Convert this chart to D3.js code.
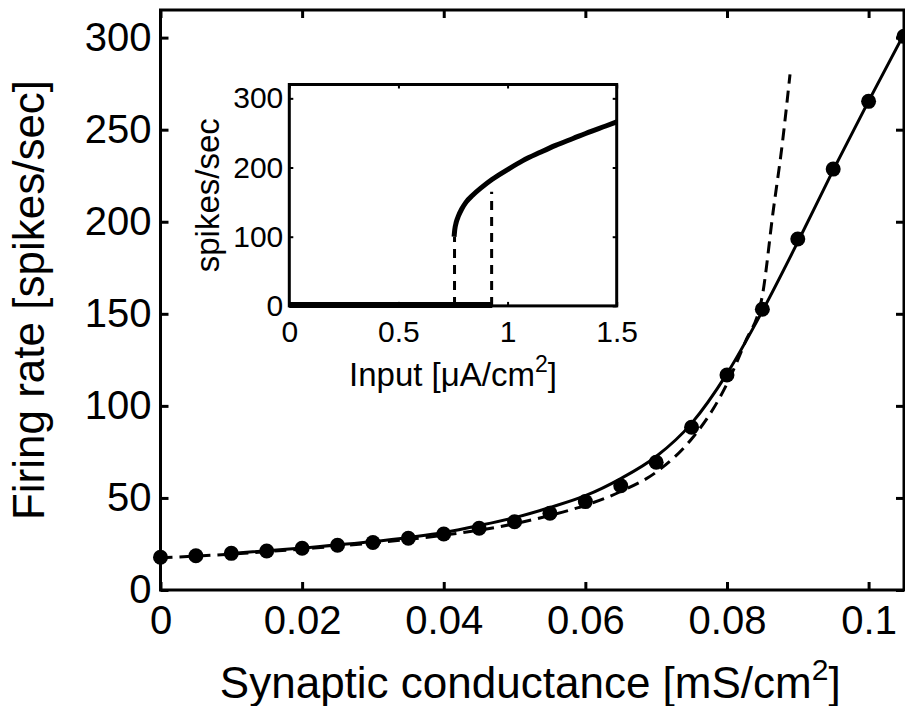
<!DOCTYPE html>
<html>
<head>
<meta charset="utf-8">
<script src="https://cdn.jsdelivr.net/npm/d3@7"></script>
<style>
  body { margin: 0; background: #fff; }
  svg { display: block; font-family: "Liberation Sans", Arial, sans-serif; }
</style>
</head>
<body>
<div id="chart"></div>
<script>
// main plot: simulated firing rate vs synaptic conductance
var dotG    = [0, 0.005, 0.01, 0.015, 0.02, 0.025, 0.03, 0.035, 0.04, 0.045, 0.05,
               0.055, 0.06, 0.065, 0.07, 0.075, 0.08, 0.085, 0.09, 0.095, 0.1, 0.105];
var dotRate = [17.8, 18.6, 19.9, 21.2, 22.7, 24.3, 25.8, 28.1, 30.4, 33.5, 37.1,
               41.7, 48.0, 56.6, 69.4, 88.4, 116.8, 152.5, 190.6, 228.6, 265.4, 300.7];

// solid curve
var solidG    = [0.009, 0.02, 0.03, 0.04, 0.045, 0.05, 0.055, 0.06, 0.065, 0.07,
                 0.075, 0.08, 0.085, 0.09, 0.095, 0.1, 0.105];
var solidRate = [19.6, 22.8, 26.3, 31.2, 35.0, 39.3, 44.8, 51.2, 60.5, 72.5,
                 90.5, 117.5, 151.5, 189, 228, 265.5, 302];

// dashed curve
var dashG    = [0, 0.01, 0.02, 0.03, 0.04, 0.045, 0.05, 0.055, 0.06, 0.065, 0.07,
                0.075, 0.078, 0.08, 0.0825, 0.085, 0.0865, 0.0878, 0.0889];
var dashRate = [17.5, 19.5, 22.3, 25.5, 29.8, 32.5, 36, 40.5, 46, 53.5, 64,
                82, 98, 112, 134, 160, 205, 242, 280];

// inset: f-I curve
var insetI    = [0.755, 0.758, 0.765, 0.775, 0.79, 0.81, 0.84, 0.88, 0.93, 1.0,
                 1.07, 1.15, 1.22, 1.30, 1.38, 1.45, 1.5];
var insetRate = [100, 110, 121, 130, 140, 150, 160, 171, 183, 197,
                 210, 222, 232, 242, 252, 260, 266];
var insetZeroI  = [0, 0.93];
var insetDashI  = [0.757, 0.927];
var insetDashTo = [100, 165];

var xTicks = [0, 0.02, 0.04, 0.06, 0.08, 0.1];
var yTicks = [0, 50, 100, 150, 200, 250, 300];
var insetXTicks = [0, 0.5, 1, 1.5];
var insetYTicks = [0, 100, 200, 300];

var W = 905, H = 706;
var svg = d3.select("#chart").append("svg").attr("width", W).attr("height", H);

var x = d3.scaleLinear().domain([0, 0.105]).range([160.5, 904]);
var y = d3.scaleLinear().domain([0, 315]).range([590, 10]);

var fmt = function(d){ return d === 0 ? "0" : String(d); };

// ticks (inside, on all four sides)
function ticks(g, axis, tr) {
  g.append("g").attr("transform", tr).call(axis)
    .call(function(s){ s.select(".domain").remove(); })
    .call(function(s){ s.selectAll(".tick line").attr("stroke", "#000").attr("stroke-width", 3); })
    .call(function(s){ s.selectAll(".tick text").attr("fill", "#000"); });
}

var main = svg.append("g");
ticks(main, d3.axisBottom(x).tickValues(xTicks).tickSize(-8).tickPadding(16).tickFormat(fmt),
      "translate(0," + y(0) + ")");
ticks(main, d3.axisTop(x).tickValues(xTicks).tickSize(-8).tickFormat(""),
      "translate(0," + y(315) + ")");
ticks(main, d3.axisLeft(y).tickValues(yTicks).tickSize(-8).tickPadding(9).tickFormat(fmt),
      "translate(" + x(0) + ",0)");
ticks(main, d3.axisRight(y).tickValues(yTicks).tickSize(-8).tickFormat(""),
      "translate(" + x(0.105) + ",0)");
main.selectAll("text").style("font-size", "40px").style("font-family", "Liberation Sans, Arial, sans-serif");

main.append("rect")
  .attr("x", x(0)).attr("y", y(315))
  .attr("width", x(0.105) - x(0)).attr("height", y(0) - y(315))
  .attr("fill", "none").attr("stroke", "#000").attr("stroke-width", 3);

var line = d3.line().curve(d3.curveMonotoneX);

main.append("path")
  .attr("d", line(dashG.map(function(g, i){ return [x(g), y(dashRate[i])]; })))
  .attr("fill", "none").attr("stroke", "#000").attr("stroke-width", 3)
  .attr("stroke-dasharray", "12,7");

main.append("path")
  .attr("d", line(solidG.map(function(g, i){ return [x(g), y(solidRate[i])]; })))
  .attr("fill", "none").attr("stroke", "#000").attr("stroke-width", 3);

main.selectAll(".dot").data(dotG).enter().append("circle")
  .attr("class", "dot")
  .attr("cx", function(d){ return x(d); })
  .attr("cy", function(d, i){ return y(dotRate[i]); })
  .attr("r", 7.5).attr("fill", "#000");

// axis labels
main.append("text")
  .attr("transform", "translate(44," + (y(0) + y(315)) / 2 + ") rotate(-90)")
  .attr("text-anchor", "middle").style("font-size", "44px")
  .text("Firing rate [spikes/sec]");

var xl = main.append("text")
  .attr("x", (x(0) + x(0.105)) / 2 - 2).attr("y", 698)
  .attr("text-anchor", "middle").style("font-size", "44px");
xl.append("tspan").text("Synaptic conductance [mS/cm");
xl.append("tspan").attr("dy", -18).style("font-size", "30px").text("2");
xl.append("tspan").attr("dy", 18).text("]");

// inset
var ix = d3.scaleLinear().domain([0, 1.5]).range([289.3, 616.7]);
var iy = d3.scaleLinear().domain([0, 320]).range([305.9, 84.5]);
var inset = svg.append("g");

inset.append("rect")
  .attr("x", ix(0)).attr("y", iy(320))
  .attr("width", ix(1.5) - ix(0)).attr("height", iy(0) - iy(320))
  .attr("fill", "#fff");

ticks(inset, d3.axisBottom(ix).tickValues(insetXTicks).tickSize(-4).tickPadding(15).tickFormat(fmt),
      "translate(0," + iy(0) + ")");
ticks(inset, d3.axisTop(ix).tickValues(insetXTicks).tickSize(-4).tickFormat(""),
      "translate(0," + iy(320) + ")");
ticks(inset, d3.axisLeft(iy).tickValues(insetYTicks).tickSize(-4).tickPadding(6).tickFormat(fmt),
      "translate(" + ix(0) + ",0)");
ticks(inset, d3.axisRight(iy).tickValues(insetYTicks).tickSize(-4).tickFormat(""),
      "translate(" + ix(1.5) + ",0)");
inset.selectAll(".tick line").attr("stroke-width", 2);
inset.selectAll("text").style("font-size", "30px").style("font-family", "Liberation Sans, Arial, sans-serif");

inset.append("rect")
  .attr("x", ix(0)).attr("y", iy(320))
  .attr("width", ix(1.5) - ix(0)).attr("height", iy(0) - iy(320))
  .attr("fill", "none").attr("stroke", "#000").attr("stroke-width", 3);

inset.selectAll(".vdash").data(insetDashI).enter().append("line")
  .attr("class", "vdash")
  .attr("x1", function(d){ return ix(d); }).attr("x2", function(d){ return ix(d); })
  .attr("y1", iy(0)).attr("y2", function(d, i){ return iy(insetDashTo[i]); })
  .attr("stroke", "#000").attr("stroke-width", 3).attr("stroke-dasharray", "9,7");

inset.append("line")
  .attr("x1", ix(insetZeroI[0])).attr("x2", ix(insetZeroI[1]))
  .attr("y1", iy(0) - 1).attr("y2", iy(0) - 1)
  .attr("stroke", "#000").attr("stroke-width", 6);

inset.append("path")
  .attr("d", d3.line().curve(d3.curveMonotoneX)(insetI.map(function(v, i){ return [ix(v), iy(insetRate[i])]; })))
  .attr("fill", "none").attr("stroke", "#000").attr("stroke-width", 5);

inset.append("text")
  .attr("transform", "translate(219," + (iy(0) + iy(320)) / 2 + ") rotate(-90)")
  .attr("text-anchor", "middle").style("font-size", "33px")
  .text("spikes/sec");

var il = inset.append("text")
  .attr("x", (ix(0) + ix(1.5)) / 2).attr("y", 386)
  .attr("text-anchor", "middle").style("font-size", "33px");
il.append("tspan").text("Input [\u03BCA/cm");
il.append("tspan").attr("dy", -14).style("font-size", "23px").text("2");
il.append("tspan").attr("dy", 14).text("]");
</script>
</body>
</html>
